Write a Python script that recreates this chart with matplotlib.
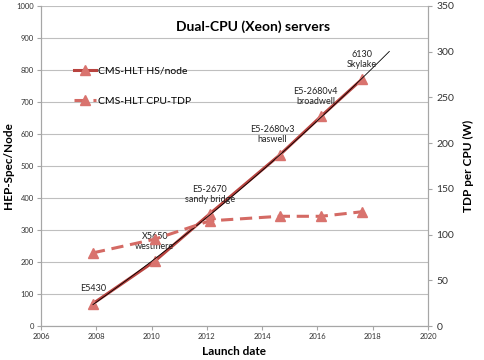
import numpy as np
import matplotlib.pyplot as plt

# Data
cpu_names = ["E5430", "X5650\nwestmere", "E5-2670\nsandy bridge",
             "E5-2680v3\nhaswell", "E5-2680v4\nbroadwell", "6130\nSkylake"]
launch_year = [2007.88, 2010.12, 2012.1, 2014.63, 2016.14, 2017.62]
hs_per_node = [70, 203, 350, 534, 656, 772]
tdp_per_cpu = [80, 95, 115, 120, 120, 125]

# label offsets in points (layout only)
label_dx = [0, 0, 0, -5, -4, 0]
label_dy = [11, 14, 14, 15, 14, 14]

plt.rcParams['font.family'] = ['Lato', 'DejaVu Sans']

fig = plt.figure(figsize=(4.85, 3.6), dpi=100)
ax = fig.add_axes([0.0845, 0.0944, 0.798, 0.889])
ax2 = ax.twinx()

solid_col = "#B8433F"
marker_col = "#D9736E"
dash_col = "#D46A64"

ax.plot(launch_year, hs_per_node, color=solid_col, lw=2.2, marker="^",
        ms=7, mfc=marker_col, mec=marker_col, label="CMS-HLT HS/node", zorder=3)
ax2.plot([], [], color=solid_col, lw=2.2, marker="^", ms=7, mfc=marker_col,
         mec=marker_col, label="CMS-HLT HS/node")
ax2.plot(launch_year, tdp_per_cpu, color=dash_col, lw=2.2, ls=(0, (4, 2.2)),
         marker="^", ms=7, mfc=marker_col, mec=marker_col, label="CMS-HLT CPU-TDP")

# thin black trendline (quadratic fit of HS/node)
coef = np.polyfit(launch_year, hs_per_node, 2)
xt = np.linspace(launch_year[0], 2018.6, 100)
ax.plot(xt, np.polyval(coef, xt), color="black", lw=0.6, zorder=4)

for name, x, y, dx, dy in zip(cpu_names, launch_year, hs_per_node, label_dx, label_dy):
    ax.annotate(name, (x, y), xytext=(dx, dy), textcoords="offset points",
                ha="center", va="center", fontsize=6.5, color="#222222",
                linespacing=1.1, zorder=5)

ax.set_xlim(2006, 2020)
ax.set_ylim(0, 1000)
ax2.set_ylim(0, 350)
ax.set_xticks(range(2006, 2021, 2))
ax.set_yticks(range(0, 1001, 100))
ax2.set_yticks(range(0, 351, 50))

ax.grid(axis="y", color="#BFBFBF", lw=0.8)
ax.set_axisbelow(True)
for a in (ax, ax2):
    a.spines["top"].set_visible(False)
    for s in ("left", "right", "bottom"):
        a.spines[s].set_color("#A6A6A6")
ax.tick_params(axis="both", labelsize=5.5, color="#A6A6A6", length=3,
               pad=2, labelcolor="#333333")
ax2.tick_params(axis="y", labelsize=7.5, color="#A6A6A6", length=3,
                pad=3, labelcolor="#333333")

ax.set_ylabel("HEP-Spec/Node", fontsize=8.5, fontweight="bold", labelpad=2)
ax2.set_ylabel("TDP per CPU (W)", fontsize=8.5, fontweight="bold", labelpad=6)
ax.set_xlabel("Launch date", fontsize=8.5, fontweight="bold", labelpad=4)

ax.text(0.548, 0.935, "Dual-CPU (Xeon) servers", transform=ax.transAxes,
        ha="center", va="center", fontsize=10, fontweight="bold")

ax2.legend(loc="upper left", bbox_to_anchor=(0.06, 0.84), frameon=False,
           fontsize=7.5, labelspacing=2.0, handlelength=2.2, handletextpad=0.1)

plt.savefig("out.png", dpi=100)
